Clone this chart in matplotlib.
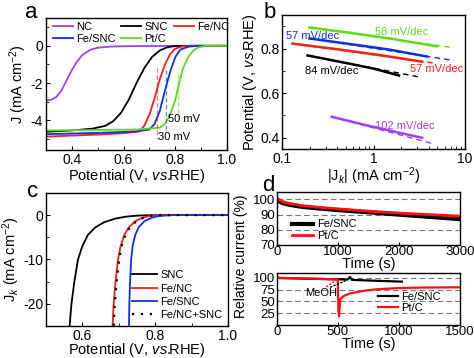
import matplotlib
matplotlib.use('Agg')
import matplotlib.pyplot as plt
from matplotlib.ticker import FixedLocator, NullFormatter, LogLocator

plt.rcParams['font.family'] = ['Liberation Sans', 'DejaVu Sans']
plt.rcParams['mathtext.fontset'] = 'custom'
plt.rcParams['mathtext.rm'] = 'Liberation Sans'
plt.rcParams['mathtext.it'] = 'Liberation Sans:italic'
plt.rcParams['axes.unicode_minus'] = False
plt.rcParams['xtick.direction'] = 'in'
plt.rcParams['ytick.direction'] = 'in'
plt.rcParams['axes.linewidth'] = 1.0

# colours
c_nc = '#a040f0'
c_snc = 'black'
c_fenc = '#f0201c'
c_fesnc = '#1030e0'
c_ptc = '#60d820'

# ---- panel a: LSV curves ----
nc_v = [0.30, 0.32, 0.34, 0.36, 0.38, 0.40, 0.42, 0.44, 0.47, 0.50, 0.55, 0.60, 0.70, 1.00]
nc_j = [-2.95, -2.9, -2.75, -2.4, -1.85, -1.3, -0.85, -0.5, -0.22, -0.1, -0.04, -0.02, -0.01, 0.0]
snc_v = [0.30, 0.40, 0.48, 0.53, 0.56, 0.59, 0.62, 0.65, 0.68, 0.71, 0.74, 0.77, 0.80, 0.85, 1.00]
snc_j = [-4.62, -4.55, -4.45, -4.3, -4.05, -3.6, -2.9, -2.0, -1.2, -0.6, -0.25, -0.07, -0.01, 0.0, 0.0]
fenc_v = [0.30, 0.45, 0.60, 0.66, 0.68, 0.70, 0.72, 0.74, 0.76, 0.78, 0.80, 0.83, 0.86, 1.00]
fenc_j = [-4.88, -4.8, -4.7, -4.6, -4.3, -3.7, -2.8, -1.8, -1.0, -0.45, -0.15, -0.03, 0.0, 0.0]
fesnc_v = [0.30, 0.50, 0.65, 0.70, 0.72, 0.74, 0.76, 0.78, 0.80, 0.82, 0.85, 0.88, 1.00]
fesnc_j = [-4.75, -4.68, -4.6, -4.5, -4.2, -3.5, -2.4, -1.4, -0.6, -0.2, -0.05, 0.0, 0.0]
ptc_v = [0.30, 0.50, 0.65, 0.74, 0.76, 0.78, 0.80, 0.815, 0.83, 0.85, 0.87, 0.89, 0.92, 1.00]
ptc_j = [-4.55, -4.52, -4.5, -4.4, -4.2, -3.7, -2.9, -2.0, -1.2, -0.6, -0.25, -0.08, 0.0, 0.0]
# half-wave markers: potential, top J, bottom J
hw_v = [0.731, 0.765, 0.810]
hw_top = [-1.2, -1.3, -1.5]
hw_bot = [-5.0, -4.5, -3.8]

# ---- panel b: Tafel plots (data and fitted lines) ----
tb_green_j = [0.2, 0.5, 1.5, 4.9]
tb_green_v = [0.894, 0.873, 0.845, 0.810]
tb_blue_j = [0.2, 0.6, 1.5, 3.85]
tb_blue_v = [0.845, 0.818, 0.795, 0.764]
tb_red_j = [0.13, 0.4, 1.2, 3.4]
tb_red_v = [0.822, 0.797, 0.770, 0.741]
tb_black_j = [0.19, 0.5, 1.0, 1.9]
tb_black_v = [0.769, 0.735, 0.710, 0.679]
tb_purple_j = [0.35, 0.8, 1.8, 3.4]
tb_purple_v = [0.494, 0.458, 0.425, 0.400]
fit_green = ([0.2, 6.8], [0.894, 0.806])
fit_blue = ([0.2, 7.6], [0.845, 0.746])
fit_red = ([0.13, 4.9], [0.822, 0.733])
fit_black = ([0.19, 3.2], [0.769, 0.672])
fit_purple = ([0.35, 4.6], [0.494, 0.372])

# ---- panel c: kinetic current ----
kc_snc_v = [0.565, 0.570, 0.578, 0.588, 0.60, 0.615, 0.635, 0.66, 0.69, 0.72, 0.75, 0.78, 0.82, 1.00]
kc_snc_j = [-25, -20, -15, -10, -7, -4.5, -2.8, -1.6, -0.8, -0.35, -0.12, -0.03, 0.0, 0.0]
kc_fenc_v = [0.683, 0.686, 0.691, 0.698, 0.705, 0.715, 0.728, 0.745, 0.765, 0.785, 0.81, 0.83, 1.00]
kc_fenc_j = [-25, -20, -15, -10, -7, -4.5, -2.7, -1.4, -0.6, -0.2, -0.04, 0.0, 0.0]
kc_mix_v = [0.686, 0.689, 0.694, 0.701, 0.708, 0.718, 0.731, 0.748, 0.768, 0.788, 0.813, 0.833, 1.00]
kc_mix_j = [-25, -20, -15, -10, -7, -4.5, -2.7, -1.4, -0.6, -0.2, -0.04, 0.0, 0.0]
kc_fesnc_v = [0.728, 0.729, 0.731, 0.734, 0.738, 0.745, 0.755, 0.77, 0.79, 0.81, 0.84, 0.86, 1.00]
kc_fesnc_j = [-25, -20, -15, -10, -7, -4.5, -2.7, -1.4, -0.6, -0.2, -0.04, 0.0, 0.0]

# ---- panel d: chronoamperometry ----
d1_t = [0, 50, 100, 200, 400, 700, 1000, 1500, 2000, 2500, 3000]
d1_fesnc = [100, 98.5, 97.5, 96.5, 95.2, 94, 93, 91.5, 90, 88.5, 87]
d1_ptc = [101, 99.5, 98.5, 97.5, 96, 94.8, 93.8, 92.3, 91, 90, 89]
d2_fesnc_t = [0, 200, 400, 500, 580, 600, 615, 640, 800, 1025]
d2_fesnc = [100, 98.5, 97.5, 97, 96.5, 102, 96, 95.5, 94, 92]
d2_ptc_t = [0, 200, 400, 480, 500, 505, 510, 520, 550, 600, 700, 800, 1000, 1200, 1500]
d2_ptc = [100, 99, 97.5, 96.5, 96, 30, 18, 55, 62, 67, 72, 75.5, 78.5, 79.5, 80]

vs_label = r'Potential (V, $\mathit{vs.}\!\!$RHE)'
tick_fs = 10
lab_fs = 10.5

fig = plt.figure(figsize=(4.74, 3.58), dpi=100)

# panel a
ax = fig.add_axes([0.097, 0.581, 0.382, 0.369])
ax.plot(nc_v, nc_j, color=c_nc, lw=1.3, label='NC')
ax.plot(snc_v, snc_j, color=c_snc, lw=1.3, label='SNC')
ax.plot(fenc_v, fenc_j, color=c_fenc, lw=1.3, label='Fe/NC')
ax.plot(fesnc_v, fesnc_j, color=c_fesnc, lw=1.3, label='Fe/SNC')
ax.plot(ptc_v, ptc_j, color=c_ptc, lw=1.3, label='Pt/C')
for v, t, b, c in zip(hw_v, hw_top, hw_bot, [c_fenc, c_fesnc, c_ptc]):
    ax.plot([v, v], [t, b], color=c, lw=1, ls=(0, (3, 2)), alpha=0.6)
ax.text(0.773, -3.95, '50 mV', fontsize=8, va='center')
ax.text(0.733, -4.9, '30 mV', fontsize=8, va='center')
ax.set_xlim(0.3, 1.0)
ax.set_ylim(-5.6, 1.5)
ax.xaxis.set_major_locator(FixedLocator([0.4, 0.6, 0.8, 1.0]))
ax.xaxis.set_minor_locator(FixedLocator([0.5, 0.7, 0.9]))
ax.yaxis.set_major_locator(FixedLocator([-4, -2, 0]))
ax.yaxis.set_minor_locator(FixedLocator([-5, -3, -1, 1]))
ax.tick_params(labelsize=tick_fs, length=3, pad=2)
ax.tick_params(which='minor', length=2)
ax.set_xlabel(vs_label, fontsize=lab_fs, labelpad=0)
ax.set_ylabel(r'J (mA cm$^{-2}$)', fontsize=lab_fs, labelpad=1)
h, l = ax.get_legend_handles_labels()
order = [0, 3, 1, 4, 2]
ax.legend([h[i] for i in order], [l[i] for i in order], ncol=3, loc='upper left',
          bbox_to_anchor=(0.0, 1.02), frameon=False, fontsize=8, handlelength=1.8,
          handletextpad=0.3, columnspacing=0.5, labelspacing=0.15, borderaxespad=0.2)

# panel b
ax = fig.add_axes([0.595, 0.584, 0.386, 0.374])
for fit, c in zip([fit_green, fit_blue, fit_red, fit_black, fit_purple],
                  [c_ptc, c_fesnc, c_fenc, c_snc, c_nc]):
    ax.plot(fit[0], fit[1], color=c, lw=1, ls=(0, (4, 3)))
ax.plot(tb_green_j, tb_green_v, color=c_ptc, lw=1.8)
ax.plot(tb_blue_j, tb_blue_v, color=c_fesnc, lw=1.8)
ax.plot(tb_red_j, tb_red_v, color=c_fenc, lw=1.8)
ax.plot(tb_black_j, tb_black_v, color=c_snc, lw=1.8)
ax.plot(tb_purple_j, tb_purple_v, color=c_nc, lw=1.8)
ax.text(1.04, 0.872, '58 mV/dec', color=c_ptc, fontsize=8, va='center')
ax.text(0.111, 0.858, '57 mV/dec', color=c_fesnc, fontsize=8, va='center')
ax.text(2.5, 0.71, '57 mV/dec', color=c_fenc, fontsize=8, va='center')
ax.text(0.178, 0.70, '84 mV/dec', color=c_snc, fontsize=8, va='center')
ax.text(1.04, 0.454, '102 mV/dec', color=c_nc, fontsize=8, va='center')
ax.set_xscale('log')
ax.set_xlim(0.1, 10)
ax.set_ylim(0.35, 0.95)
ax.xaxis.set_major_locator(FixedLocator([0.1, 1, 10]))
ax.xaxis.set_minor_locator(LogLocator(base=10, subs=range(2, 10)))
ax.xaxis.set_minor_formatter(NullFormatter())
ax.set_xticklabels(['0.1', '1', '10'])
ax.yaxis.set_major_locator(FixedLocator([0.4, 0.6, 0.8]))
ax.yaxis.set_minor_locator(FixedLocator([0.5, 0.7, 0.9]))
ax.tick_params(labelsize=tick_fs, length=3, pad=2)
ax.tick_params(which='minor', length=2)
ax.set_xlabel(r'|J$_k$| (mA cm$^{-2}$)', fontsize=lab_fs, labelpad=0)
ax.set_ylabel(vs_label, fontsize=lab_fs, labelpad=1)

# panel c
ax = fig.add_axes([0.097, 0.09, 0.384, 0.371])
ax.plot(kc_snc_v, kc_snc_j, color=c_snc, lw=1.3, label='SNC')
ax.plot(kc_fenc_v, kc_fenc_j, color=c_fenc, lw=1.3, label='Fe/NC')
ax.plot(kc_fesnc_v, kc_fesnc_j, color=c_fesnc, lw=1.3, label='Fe/SNC')
ax.plot(kc_mix_v, kc_mix_j, color='black', lw=1.6, ls=(0, (1, 3)), label='Fe/NC+SNC')
ax.set_xlim(0.5, 1.0)
ax.set_ylim(-25, 5)
ax.xaxis.set_major_locator(FixedLocator([0.6, 0.8, 1.0]))
ax.xaxis.set_minor_locator(FixedLocator([0.7, 0.9]))
ax.yaxis.set_major_locator(FixedLocator([-20, -10, 0]))
ax.yaxis.set_minor_locator(FixedLocator([-15, -5]))
ax.tick_params(labelsize=tick_fs, length=3, pad=2)
ax.tick_params(which='minor', length=2)
ax.set_xlabel(vs_label, fontsize=lab_fs, labelpad=-1)
ax.set_ylabel(r'J$_k$ (mA cm$^{-2}$)', fontsize=lab_fs, labelpad=1)
ax.legend(loc='lower right', frameon=False, fontsize=8, handlelength=2.2,
          handletextpad=0.3, labelspacing=0.3, borderaxespad=0.1)

# panel d top
ax = fig.add_axes([0.584, 0.316, 0.386, 0.148])
for g in [80, 90, 100]:
    ax.axhline(g, color='#777777', lw=0.8, ls=(0, (5, 3)))
ax.plot(d1_t, d1_fesnc, color='black', lw=3, label='Fe/SNC')
ax.plot(d1_t, d1_ptc, color='#ff1010', lw=2, label='Pt/C')
ax.set_xlim(0, 3000)
ax.set_ylim(70, 105)
ax.xaxis.set_major_locator(FixedLocator([0, 1000, 2000, 3000]))
ax.yaxis.set_major_locator(FixedLocator([70, 80, 90, 100]))
ax.tick_params(labelsize=9.5, length=2, pad=1)
ax.set_xlabel('Time (s)', fontsize=lab_fs, labelpad=-1)
ax.legend(loc='center left', frameon=False, fontsize=8, handlelength=1.9,
          handletextpad=0.3, labelspacing=0.1, borderaxespad=0.0, bbox_to_anchor=(0.06, 0.28))

# panel d bottom
ax = fig.add_axes([0.584, 0.092, 0.386, 0.145])
for g in [25, 50, 75, 100]:
    ax.axhline(g, color='#777777', lw=0.8, ls=(0, (5, 3)))
ax.plot(d2_fesnc_t, d2_fesnc, color='black', lw=1.6, label='Fe/SNC')
ax.plot(d2_ptc_t, d2_ptc, color='#ff1010', lw=1.6, label='Pt/C')
ax.annotate('', xy=(485, 95), xytext=(390, 78),
            arrowprops=dict(arrowstyle='-', color='#ff1010', ls=':', lw=1))
ax.annotate('', xy=(590, 97), xytext=(420, 78),
            arrowprops=dict(arrowstyle='-', color='black', ls=':', lw=1))
ax.text(230, 68, 'MeOH', fontsize=8, va='center')
ax.set_xlim(0, 1500)
ax.set_ylim(0, 110)
ax.xaxis.set_major_locator(FixedLocator([0, 500, 1000, 1500]))
ax.yaxis.set_major_locator(FixedLocator([25, 50, 75, 100]))
ax.tick_params(labelsize=9.5, length=2, pad=1)
ax.set_xlabel('Time (s)', fontsize=lab_fs, labelpad=-1)
ax.legend(loc='center left', frameon=False, fontsize=8, handlelength=1.8,
          handletextpad=0.3, labelspacing=0.1, borderaxespad=0.0, bbox_to_anchor=(0.53, 0.43))

fig.text(0.508, 0.285, 'Relative current (%)', rotation=90, fontsize=10, ha='center', va='center')

# panel letters
fig.text(0.065, 0.965, 'a', fontsize=16, ha='center', va='center')
fig.text(0.57, 0.965, 'b', fontsize=16, ha='center', va='center')
fig.text(0.068, 0.465, 'c', fontsize=16, ha='center', va='center')
fig.text(0.567, 0.483, 'd', fontsize=16, ha='center', va='center')

fig.savefig('out.png', dpi=100)
